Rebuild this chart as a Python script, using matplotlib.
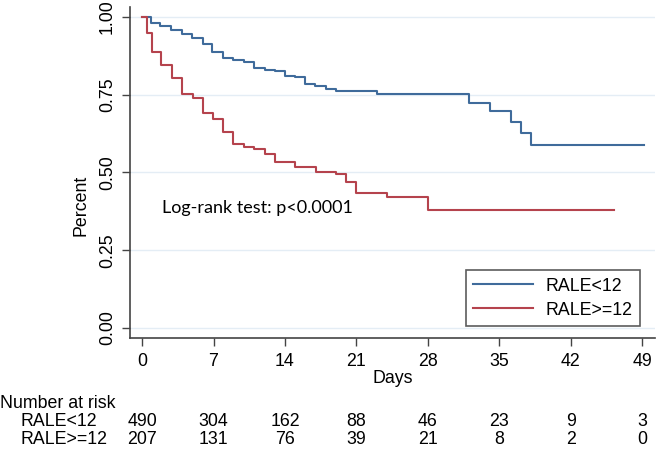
import numpy as np
import matplotlib
matplotlib.use("Agg")
import matplotlib.pyplot as plt
import matplotlib.transforms as mtransforms

# Kaplan-Meier steps (time in days, survival fraction)
low_t = [0, 0.9, 1.8, 2.8, 3.9, 4.9, 6.0, 6.9, 7.95, 8.95, 9.95, 11.0, 12.05, 13.0,
         14.0, 15.0, 16.0, 16.95, 18.0, 19.0, 23.0, 32.05, 34.1, 36.1, 37.1, 38.1, 49.2]
low_s = [1.0, 0.980, 0.971, 0.958, 0.946, 0.932, 0.913, 0.886, 0.868, 0.862, 0.854, 0.836,
         0.830, 0.825, 0.811, 0.807, 0.784, 0.778, 0.770, 0.763, 0.752, 0.725, 0.697,
         0.661, 0.626, 0.587, 0.587]
high_t = [0, 0.45, 0.95, 1.9, 2.9, 3.9, 4.95, 5.95, 6.95, 7.95, 8.95, 10.0, 11.0, 12.0,
          13.0, 15.0, 17.0, 19.0, 20.0, 21.0, 24.0, 28.0, 46.2]
high_s = [1.0, 0.947, 0.888, 0.845, 0.803, 0.753, 0.738, 0.691, 0.671, 0.629, 0.592,
          0.583, 0.575, 0.558, 0.533, 0.519, 0.501, 0.494, 0.469, 0.435, 0.420, 0.379, 0.379]

groups = ["RALE<12", "RALE>=12"]
risk_days = [0, 7, 14, 21, 28, 35, 42, 49]
risk_low = [490, 304, 162, 88, 46, 23, 9, 3]
risk_high = [207, 131, 76, 39, 21, 8, 2, 0]
y_ticks = [0.0, 0.25, 0.5, 0.75, 1.0]

blue = "#3f6b9b"
red = "#b5434d"
font = "Liberation Sans"
fs = 12.8

fig = plt.figure(figsize=(6.57, 4.50), dpi=100)
ax = fig.add_axes([130 / 657, 1 - 338 / 450, 525 / 657, 331 / 450])

ax.step(low_t, low_s, where="post", color=blue, lw=1.5, label=groups[0], zorder=3)
ax.step(high_t, high_s, where="post", color=red, lw=1.5, label=groups[1], zorder=3)

ax.set_xlim(-1.18, 50.25)
ax.set_ylim(-0.032, 1.032)
ax.set_xticks(risk_days)
ax.set_yticks(y_ticks)
ax.set_yticklabels(["%.2f" % v for v in y_ticks], rotation=90, va="center",
                   family=font, fontsize=fs)
ax.set_xticklabels([str(d) for d in risk_days], family=font, fontsize=fs)
ax.tick_params(axis="both", direction="out", length=6, width=1, color="#444444", pad=5)
ax.tick_params(axis="y", pad=4)
ax.grid(axis="y", color="#e4edf5", lw=1, zorder=0)

for s in ["top", "right"]:
    ax.spines[s].set_visible(False)
for s in ["left", "bottom"]:
    ax.spines[s].set_color("#444444")
    ax.spines[s].set_linewidth(1.2)

ax.set_xlabel("Days", family=font, fontsize=fs, labelpad=0)
ax.set_ylabel("Percent", family=font, fontsize=fs)
ax.yaxis.set_label_coords(-0.078, 0.40)

ax.text(2.0, 0.385, "Log-rank test: p<0.0001", family="Lato", fontsize=13,
        va="center", ha="left")

leg = ax.legend(loc="lower right", bbox_to_anchor=(0.988, 0.01), prop={"family": font, "size": fs},
                frameon=True, fancybox=False, edgecolor="#333333", handlelength=3.4,
                borderpad=0.4, labelspacing=0.4, handletextpad=0.7)
leg.get_frame().set_linewidth(1.2)

# number at risk table
fig.text(0.0, 1 - 403 / 450, "Number at risk", family=font, fontsize=fs, va="center")
fig.text(20 / 657, 1 - 422 / 450, groups[0], family=font, fontsize=fs, va="center")
fig.text(20 / 657, 1 - 440 / 450, groups[1], family=font, fontsize=fs, va="center")
trans = mtransforms.blended_transform_factory(ax.transData, fig.transFigure)
for d, a, b in zip(risk_days, risk_low, risk_high):
    ax.text(d, 1 - 422 / 450, str(a), transform=trans, ha="center", va="center",
            family=font, fontsize=fs, clip_on=False)
    ax.text(d, 1 - 440 / 450, str(b), transform=trans, ha="center", va="center",
            family=font, fontsize=fs, clip_on=False)

fig.savefig("out.png", dpi=100)
